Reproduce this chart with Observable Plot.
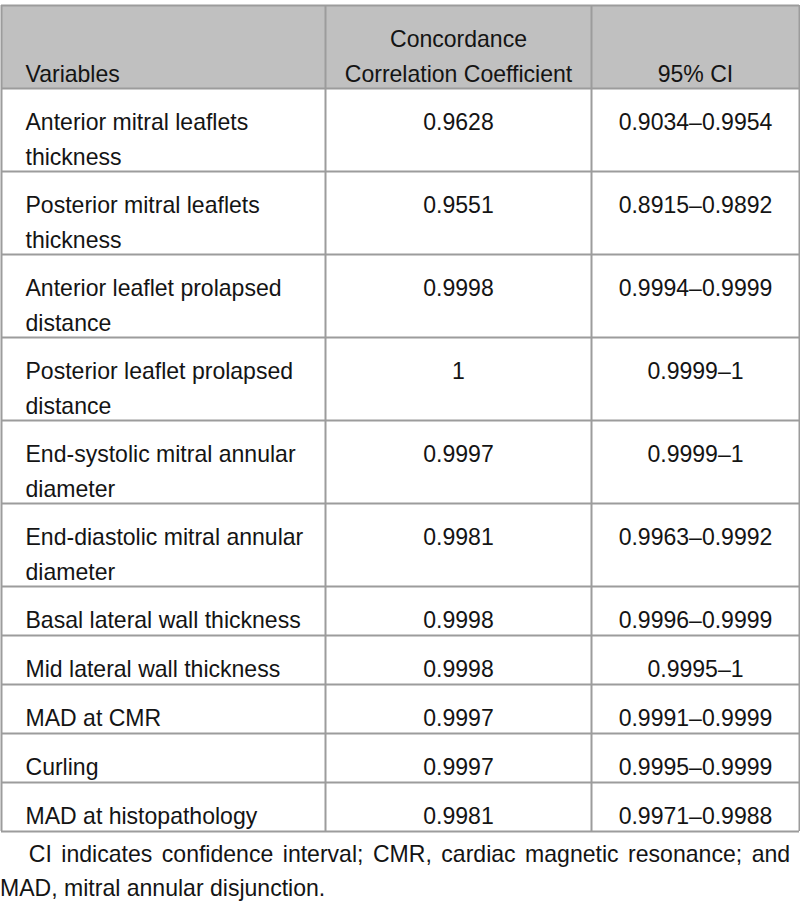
<!DOCTYPE html>
<html><head><meta charset="utf-8">
<script src="https://cdn.jsdelivr.net/npm/d3@7"></script>
<script src="https://cdn.jsdelivr.net/npm/@observablehq/plot@0.6"></script>
<style>
body{margin:0;background:#fff;overflow:hidden;}
#chart svg{display:block;}
.note{font-family:"Liberation Sans",Arial,sans-serif;font-size:24px;line-height:34px;color:#141414;text-align:justify;text-indent:30px;margin:0;padding:0;width:823px;transform:scaleX(0.96);transform-origin:0 0;}
</style></head><body>
<div id="chart"></div>
<p class="note" id="note"></p>
<script>
const headers = ["Variables", "Concordance\nCorrelation Coefficient", "95% CI"];
const variables = [
  "Anterior mitral leaflets\nthickness",
  "Posterior mitral leaflets\nthickness",
  "Anterior leaflet prolapsed\ndistance",
  "Posterior leaflet prolapsed\ndistance",
  "End-systolic mitral annular\ndiameter",
  "End-diastolic mitral annular\ndiameter",
  "Basal lateral wall thickness",
  "Mid lateral wall thickness",
  "MAD at CMR",
  "Curling",
  "MAD at histopathology"
];
const ccc = ["0.9628","0.9551","0.9998","1","0.9997","0.9981","0.9998","0.9998","0.9997","0.9997","0.9981"];
const ci = ["0.9034–0.9954","0.8915–0.9892","0.9994–0.9999","0.9999–1","0.9999–1","0.9963–0.9992","0.9996–0.9999","0.9995–1","0.9991–0.9999","0.9995–0.9999","0.9971–0.9988"];
const footnote = "CI indicates confidence interval; CMR, cardiac magnetic resonance; and MAD, mitral annular disjunction.";

// layout
const FONT = '"Liberation Sans", Arial, sans-serif';
const fontSize = 24, rowLine = 34, pad = 15, textLine = 35, capOffset = 17, squeeze = 0.96;
const tableTop = 5, left = 1, right = 799;
const colEdges = [left, 325, 591, right];
const textInset = 24;
const nLines = s => String(s).split("\n").length;

const rows = [headers, ...variables.map((v, i) => [v, ccc[i], ci[i]])];
const rowTops = [], rowBottoms = [];
let yy = tableTop;
rows.forEach(r => { rowTops.push(yy); yy += d3.max(r, nLines) * rowLine + pad; rowBottoms.push(yy); });
const tableBottom = yy;
const H = tableBottom + 6;

const cells = [];
rows.forEach((r, ri) => {
  const maxL = d3.max(r, nLines);
  r.forEach((t, c) => {
    const shift = ri === 0 ? (maxL - nLines(t)) * textLine : 0;
    cells.push({
      text: t, col: c,
      x: c === 0 ? colEdges[0] + textInset : (colEdges[c] + colEdges[c + 1]) / 2,
      y: rowTops[ri] + capOffset + shift
    });
  });
});
const hLines = [tableTop, ...rowBottoms];
const stroke = "#9c9c9c";
const textOpts = {x: "x", y: "y", text: "text", lineAnchor: "top", lineHeight: textLine / fontSize, fontSize, fill: "#141414"};

const plot = Plot.plot({
  width: 800, height: H, margin: 0,
  x: {type: "linear", domain: [0, 800], range: [0, 800], axis: null},
  y: {type: "linear", domain: [0, H], range: [0, H], axis: null},
  style: {fontFamily: FONT, fontSize: fontSize + "px", background: "#fff", color: "#141414"},
  marks: [
    Plot.rect([{}], {x1: left, x2: right, y1: rowTops[0], y2: rowBottoms[0], fill: "#c0c0c0"}),
    Plot.ruleY(hLines, {y: d => d, x1: left, x2: right, stroke, strokeWidth: 2}),
    Plot.ruleX(colEdges, {x: d => d, y1: tableTop, y2: tableBottom, stroke, strokeWidth: 2}),
    Plot.text(cells.filter(d => d.col === 0), {...textOpts, textAnchor: "start"}),
    Plot.text(cells.filter(d => d.col !== 0), {...textOpts, textAnchor: "middle"})
  ]
});
// condense glyphs horizontally around each text's anchor
d3.select(plot).selectAll("text").each(function() {
  const t = this.getAttribute("transform") || "";
  this.setAttribute("transform", t + ` scale(${squeeze},1)`);
});
document.getElementById("chart").appendChild(plot);
document.getElementById("note").textContent = footnote;
</script>
</body></html>
